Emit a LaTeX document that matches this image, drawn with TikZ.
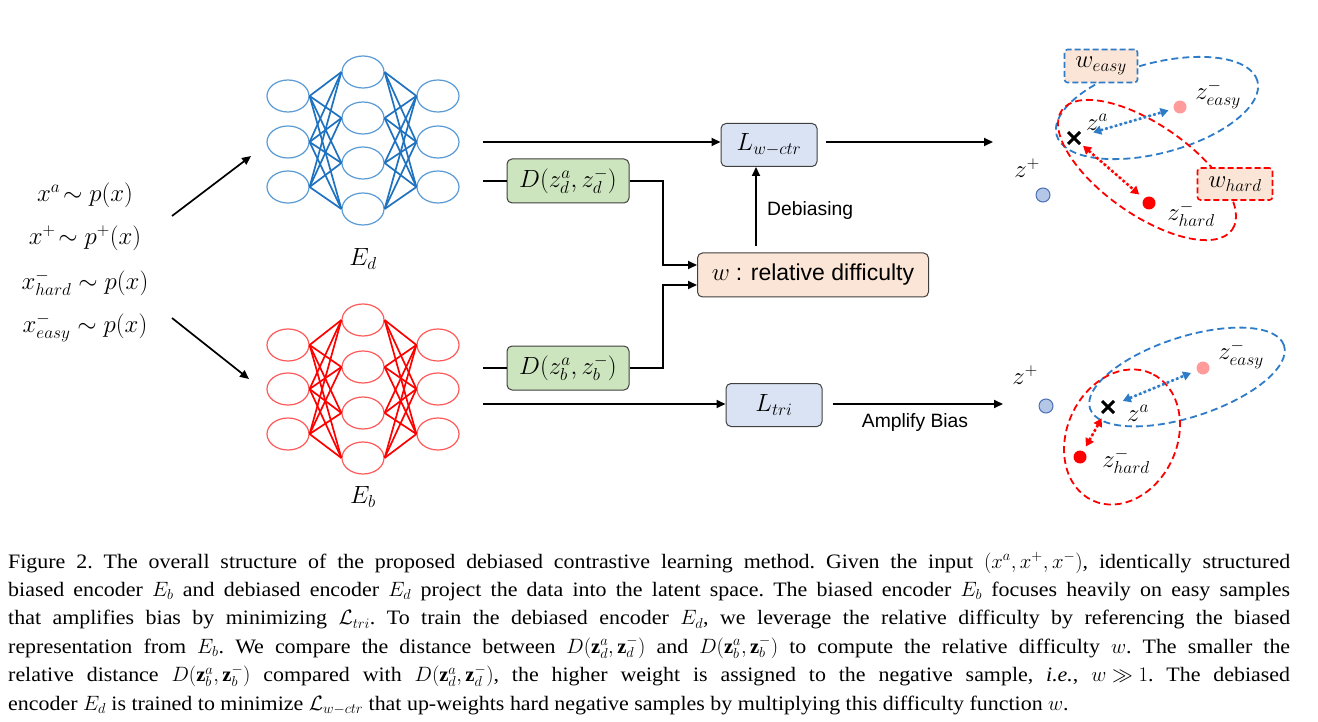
\documentclass[tikz,border=0pt]{standalone}
\usepackage{fontspec}
\setmainfont{Liberation Serif}
\newfontfamily\capfont{Liberation Serif}[FakeStretch=1.07]
\newfontfamily\arialf{Liberation Sans}
\usetikzlibrary{arrows.meta,shapes.geometric,shapes.misc,calc}
\definecolor{netblue}{HTML}{5B9BD5}
\definecolor{edgeblue}{HTML}{1F72C0}
\definecolor{netred}{HTML}{FF5A5A}
\definecolor{edgered}{HTML}{FF0000}
\definecolor{dashblue}{HTML}{2E7BC8}
\definecolor{lossfill}{HTML}{DAE3F3}
\definecolor{distfill}{HTML}{CDE5BE}
\definecolor{wfill}{HTML}{FBE5D6}
\definecolor{boxedge}{HTML}{404040}
\definecolor{posfill}{HTML}{B4C7E7}
\definecolor{posedge}{HTML}{4A6FB5}
\definecolor{easyfill}{HTML}{FF9B9B}
\newcommand{\capsetup}{\capfont\fontsize{20.5}{28.4}\selectfont\frenchspacing\thickmuskip=5mu\relax\medmuskip=4mu\relax}
\tikzset{
  bnode/.style={ellipse, draw=netblue, line width=1.2pt, minimum width=42pt, minimum height=32pt, inner sep=0pt},
  rnode/.style={ellipse, draw=netred, line width=1.2pt, minimum width=42pt, minimum height=32pt, inner sep=0pt},
  bedge/.style={draw=edgeblue, line width=1.7pt},
  redge/.style={draw=edgered, line width=1.7pt},
  conn/.style={draw=black, line width=1.7pt},
  arr/.style={conn, -{Triangle[length=9pt,width=8pt]}},
  boxstyle/.style={draw=boxedge, line width=1pt, rounded corners=5pt, inner sep=0pt, font=\fontsize{24}{28}\selectfont},
  lossbox/.style={boxstyle, fill=lossfill, minimum width=96pt, minimum height=43pt},
  distbox/.style={boxstyle, fill=distfill, minimum width=122pt, minimum height=44pt},
  wbox/.style={boxstyle, fill=wfill, minimum width=231pt, minimum height=44pt},
  mlabel/.style={inner sep=0pt, font=\fontsize{26}{30}\selectfont},
  inlabel/.style={inner sep=0pt, font=\fontsize{25}{30}\selectfont},
  elabel/.style={inner sep=0pt, font=\fontsize{23}{27}\selectfont},
  slabel/.style={inner sep=0pt, font=\arialf\fontsize{19.3}{23}\selectfont},
  dashell/.style={line width=1.8pt, dash pattern=on 7pt off 4pt},
  tagbox/.style={fill=wfill, line width=1.6pt, dash pattern=on 6pt off 3pt, rounded corners=3pt, inner sep=0pt, font=\fontsize{24}{28}\selectfont},
  pospt/.style={circle, fill=posfill, draw=posedge, line width=1pt, minimum size=14pt, inner sep=0pt},
  easypt/.style={circle, fill=easyfill, minimum size=13pt, inner sep=0pt},
  hardpt/.style={circle, fill=edgered, minimum size=13pt, inner sep=0pt},
  anchorpt/.style={cross out, draw=black, line width=3pt, minimum size=9pt, inner sep=0pt},
  dotarr/.style={line width=2.6pt, dash pattern=on 2.6pt off 2.4pt, {Triangle[length=8pt,width=9pt]}-{Triangle[length=8pt,width=9pt]}}
}
\begin{document}
\begin{tikzpicture}[x=1pt,y=-1pt]
\useasboundingbox[fill=white] (0,0) rectangle (1318,722);

% ---------- inputs ----------
\node[inlabel] (in1) at (85,195) {$x^{a}\!\sim p(x)$};
\node[inlabel] (in2) at (85,238) {$x^{+}\!\sim p^{+}(x)$};
\node[inlabel] (in3) at (85,283) {$x^{-}_{hard}\sim p(x)$};
\node[inlabel] (in4) at (85,328) {$x^{-}_{easy}\sim p(x)$};
\coordinate (ia1) at (172,216);
\coordinate (ib1) at (251,156);
\coordinate (ia2) at (172,318);
\coordinate (ib2) at (249,379);
\draw[arr] (ia1) -- (ib1);
\draw[arr] (ia2) -- (ib2);

% ---------- debiased encoder (blue) ----------
\foreach \n/\yy in {1/96,2/142,3/187} {
  \node[bnode] (dL\n) at (288,\yy) {};
  \node[bnode] (dR\n) at (438,\yy) {};
}
\foreach \n/\yy in {1/72,2/118,3/163,4/209} {
  \node[bnode] (dM\n) at (363,\yy) {};
}
\foreach \i in {1,2,3} {
  \foreach \j in {1,2,3,4} {
    \draw[bedge] (dL\i.east) -- (dM\j.west);
    \draw[bedge] (dM\j.east) -- (dR\i.west);
  }
}
\node[elabel] (Ed) at (363,259) {$E_d$};

% ---------- biased encoder (red) ----------
\foreach \n/\yy in {1/345,2/389,3/434} {
  \node[rnode] (bL\n) at (288,\yy) {};
  \node[rnode] (bR\n) at (438,\yy) {};
}
\foreach \n/\yy in {1/320,2/367,3/413,4/458} {
  \node[rnode] (bM\n) at (363,\yy) {};
}
\foreach \i in {1,2,3} {
  \foreach \j in {1,2,3,4} {
    \draw[redge] (bL\i.east) -- (bM\j.west);
    \draw[redge] (bM\j.east) -- (bR\i.west);
  }
}
\node[elabel] (Eb) at (363,497) {$E_b$};

% ---------- middle boxes ----------
\node[lossbox] (Lw) at (769,145) {$L_{w-ctr}$};
\node[distbox] (Dd) at (568,181) {$D(z^{a}_{d},z^{-}_{d})$};
\node[wbox] (W) at (813,275) {$w$\ {\arialf\fontsize{23}{27}\selectfont : relative difficulty}};
\node[distbox] (Db) at (568,368) {$D(z^{a}_{b},z^{-}_{b})$};
\node[lossbox] (Lt) at (774,405) {$L_{tri}$};

\coordinate (s1) at (483,142);
\coordinate (s2) at (483,181);
\coordinate (s3) at (483,368);
\coordinate (s4) at (483,404);
\coordinate (j1) at (663,181);
\coordinate (j2) at (663,368);
\coordinate (wa) at ($(W.west)+(0,-10)$);
\coordinate (wb) at ($(W.west)+(0,10)$);
\coordinate (t1) at (993,142);
\coordinate (t2) at (1003,404);
\coordinate (dbs) at (756,246);

\draw[arr] (s1) -- (s1 -| Lw.west);
\draw[conn] (s2) -- (Dd.west);
\draw[arr] (Dd.east) -- (j1) |- (wa);
\draw[conn] (s3) -- (Db.west);
\draw[arr] (Db.east) -- (j2) |- (wb);
\draw[arr] (dbs) -- (dbs |- Lw.south);
\node[slabel, anchor=west] (deb) at (767,211) {Debiasing};
\draw[arr] (s4) -- (s4 -| Lt.west);
\draw[arr, shorten <=8pt] (Lw.east |- t1) -- (t1);
\draw[arr, shorten <=10pt] (Lt.east |- t2) -- (t2);
\node[slabel] (amp) at (915,423) {Amplify Bias};

% ---------- top latent space ----------
\draw[dashell, draw=dashblue, rotate around={15:(1157,108)}] (1157,108) ellipse [x radius=104pt, y radius=45pt];
\draw[dashell, draw=edgered, rotate around={-35:(1147,170)}] (1147,170) ellipse [x radius=104pt, y radius=45pt];
\node[tagbox, draw=dashblue, minimum width=73pt, minimum height=33pt] (we) at (1101,66) {$w_{easy}$};
\node[tagbox, draw=edgered, minimum width=75pt, minimum height=32pt] (wh) at (1235,184) {$w_{hard}$};
\node[mlabel] (zp1l) at (1027,168) {$z^{+}$};
\node[pospt] (zp1) at (1043,195) {};
\node[anchorpt] (za1) at (1074,138) {};
\node[mlabel] (za1l) at (1097,122) {$z^{a}$};
\node[easypt] (ze1) at (1180,107) {};
\node[mlabel] (ze1l) at (1218,95) {$z^{-}_{easy}$};
\node[hardpt] (zh1) at (1149,203) {};
\node[mlabel] (zh1l) at (1191,214) {$z^{-}_{hard}$};
\draw[dotarr, draw=dashblue, fill=dashblue, shorten <=20pt, shorten >=12pt] (za1.center) -- (ze1.center);
\draw[dotarr, draw=edgered, fill=edgered, shorten <=12pt, shorten >=13pt] (za1.center) -- (zh1.center);

% ---------- bottom latent space ----------
\draw[dashell, draw=dashblue, rotate around={18:(1187,377)}] (1187,377) ellipse [x radius=102pt, y radius=40pt];
\draw[dashell, draw=edgered, rotate around={65:(1122,437)}] (1122,437) ellipse [x radius=70pt, y radius=55pt];
\node[mlabel] (zp2l) at (1025,375) {$z^{+}$};
\node[pospt] (zp2) at (1046,406) {};
\node[anchorpt] (za2) at (1108,407) {};
\node[mlabel] (za2l) at (1138,413) {$z^{a}$};
\node[easypt] (ze2) at (1203,368) {};
\node[mlabel] (ze2l) at (1241,355) {$z^{-}_{easy}$};
\node[hardpt] (zh2) at (1080,457) {};
\node[mlabel] (zh2l) at (1126,461) {$z^{-}_{hard}$};
\draw[dotarr, draw=dashblue, fill=dashblue, shorten <=16pt, shorten >=13pt] (za2.center) -- (ze2.center);
\draw[dotarr, draw=edgered, fill=edgered, shorten <=13pt, shorten >=12pt] (za2.center) -- (zh2.center);

% ---------- caption ----------
\node[anchor=north west, inner sep=0pt, text width=1282pt, align=justify,
      font=\capsetup] (cap) at (8,552) {%
Figure 2. The overall structure of the proposed debiased contrastive learning method. Given the input $(x^a, x^+, x^-)$, identically structured\linebreak
biased encoder $E_b$ and debiased encoder $E_d$ project the data into the latent space. The biased encoder $E_b$ focuses heavily on easy samples\linebreak
that amplifies bias by minimizing $\mathcal{L}_{tri}$. To train the debiased encoder $E_d$, we leverage the relative difficulty by referencing the biased\linebreak
representation from $E_b$. We compare the distance between $D(\mathbf{z}^a_d, \mathbf{z}^-_d)$ and $D(\mathbf{z}^a_b, \mathbf{z}^-_b)$ to compute the relative difficulty $w$. The smaller the\linebreak
relative distance $D(\mathbf{z}^a_b, \mathbf{z}^-_b)$ compared with $D(\mathbf{z}^a_d, \mathbf{z}^-_d)$, the higher weight is assigned to the negative sample, \textit{i.e.}, $w \gg 1$. The debiased\linebreak
encoder $E_d$ is trained to minimize $\mathcal{L}_{w-ctr}$ that up-weights hard negative samples by multiplying this difficulty function $w$.};
\end{tikzpicture}
\end{document}
